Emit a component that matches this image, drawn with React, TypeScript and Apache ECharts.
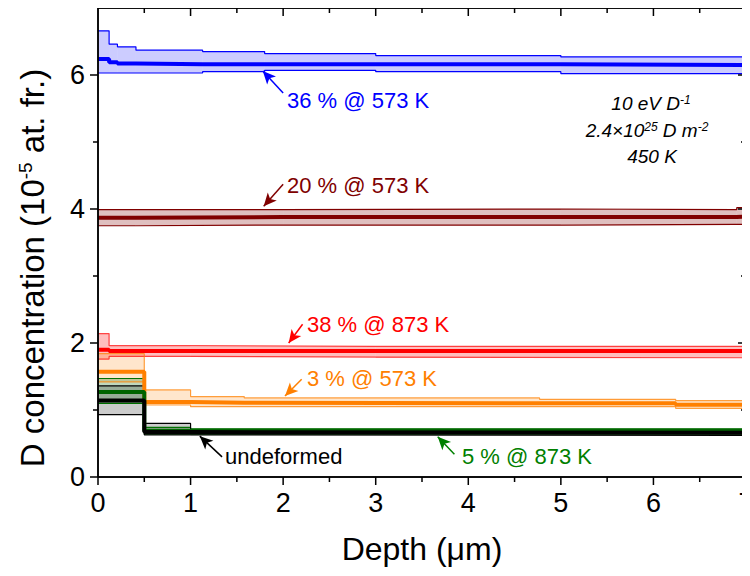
import React, { useEffect, useRef } from "react";
import * as echarts from "echarts";

// ---- data (depth in µm, concentration in 1e-5 at. fr.) ----
const blueEdges = [0, 0.12, 0.21, 0.41, 1.13, 1.8, 3.0, 5.0, 7];
const blueMean = [6.24, 6.19, 6.17, 6.16, 6.16, 6.16, 6.16, 6.15];
const blueUpper = [6.66, 6.46, 6.42, 6.37, 6.35, 6.32, 6.29, 6.27];
const blueLower = [6.03, 6.03, 6.03, 6.03, 6.05, 6.07, 6.05, 6.02];

const maroonEdges = [0, 0.4, 2, 5, 6.9, 7];
const maroonMean = [3.87, 3.88, 3.88, 3.88, 3.89];
const maroonUpper = [3.99, 3.99, 4.0, 3.99, 4.02];
const maroonLower = [3.75, 3.76, 3.76, 3.77, 3.77];

const redEdges = [0, 0.12, 1, 3, 7];
const redMean = [1.9, 1.88, 1.88, 1.88];
const redUpper = [2.14, 1.96, 1.95, 1.95];
const redLower = [1.76, 1.8, 1.79, 1.78];

const orangeEdges = [0, 0.5, 1.0, 1.58, 4.77, 6.24, 7];
const orangeMean = [1.57, 1.12, 1.11, 1.1, 1.1, 1.08];
const orangeUpper = [1.84, 1.3, 1.2, 1.18, 1.16, 1.14];
const orangeLower = [1.42, 1.075, 1.05, 1.05, 1.05, 1.025];

const greenEdges = [0, 0.5, 1, 7];
const greenMean = [1.27, 0.69, 0.69];
const greenUpper = [1.47, 0.74, 0.72];
const greenLower = [1.1, 0.64, 0.64];

const blackEdges = [0, 0.5, 1, 7];
const blackMean = [1.14, 0.67, 0.66];
const blackUpper = [1.36, 0.8, 0.7];
const blackLower = [0.93, 0.63, 0.62];

const xRange = [0, 7];
const yRange = [0, 7];
const xMajorTicks = [0, 1, 2, 3, 4, 5, 6, 7];
const xMinorTicks = [0.5, 1.5, 2.5, 3.5, 4.5, 5.5, 6.5];
const yMajorTicks = [0, 2, 4, 6];
const yMinorTicks = [1, 3, 5];

const BLACK = "#000000";
const W = 750;
const H = 576;
const GRID = { left: 98, right: 4, top: 8, bottom: 99 };

const profiles = [
  { name: "36 % @ 573 K", edges: blueEdges, mean: blueMean, upper: blueUpper, lower: blueLower, color: "#0000ff", fill: "rgba(0,0,255,0.2)", edge: "#0000ff" },
  { name: "20 % @ 573 K", edges: maroonEdges, mean: maroonMean, upper: maroonUpper, lower: maroonLower, color: "#800000", fill: "rgba(128,0,0,0.25)", edge: "#800000" },
  { name: "38 % @ 873 K", edges: redEdges, mean: redMean, upper: redUpper, lower: redLower, color: "#ff0000", fill: "rgba(255,0,0,0.25)", edge: "rgba(255,0,0,0.7)" },
  { name: "3 % @ 573 K", edges: orangeEdges, mean: orangeMean, upper: orangeUpper, lower: orangeLower, color: "#ff8000", fill: "rgba(255,128,0,0.2)", edge: "rgba(255,128,0,0.75)" },
  { name: "5 % @ 873 K", edges: greenEdges, mean: greenMean, upper: greenUpper, lower: greenLower, color: "#006400", fill: "rgba(0,100,0,0.25)", edge: "#007000" },
  { name: "undeformed", edges: blackEdges, mean: blackMean, upper: blackUpper, lower: blackLower, color: BLACK, fill: "rgba(0,0,0,0.2)", edge: BLACK },
];

// annotation arrows: [tailX, tailY, tipX, tipY] in data units
const arrowBlue = [2.0, 5.73, 1.78, 6.06];
const arrowMaroon = [2.0, 4.37, 1.79, 4.04];
const arrowRed = [2.21, 2.28, 2.06, 2.0];
const arrowOrange = [2.2, 1.46, 2.02, 1.21];
const arrowGreen = [3.85, 0.34, 3.67, 0.6];
const arrowBlack = [1.34, 0.3, 1.1, 0.61];

const annotations = [
  { text: "36 % @ 573 K", color: "#0000ff", arrow: arrowBlue, x: 287, y: 100 },
  { text: "20 % @ 573 K", color: "#800000", arrow: arrowMaroon, x: 287, y: 185 },
  { text: "38 % @ 873 K", color: "#ff0000", arrow: arrowRed, x: 307, y: 324 },
  { text: "3 % @ 573 K", color: "#ff8000", arrow: arrowOrange, x: 307, y: 378 },
  { text: "5 % @ 873 K", color: "#008000", arrow: arrowGreen, x: 462, y: 456 },
  { text: "undeformed", color: BLACK, arrow: arrowBlack, x: 225, y: 456 },
];

const FONT = "'Liberation Sans', Arial, Helvetica, sans-serif";

function stepData(edges: number[], vals: number[]) {
  return edges.map((x, i) => [x, vals[Math.min(i, vals.length - 1)]]);
}

function segData(edges: number[], lo: number[], hi: number[]) {
  const out: number[][] = [];
  for (let i = 0; i < edges.length - 1; i++) out.push([edges[i], edges[i + 1], lo[i], hi[i]]);
  return out;
}

function makeAxis(position: string, interval: number, range: number[], opts: any) {
  return {
    type: "value",
    position,
    min: range[0],
    max: range[1],
    interval,
    splitLine: { show: false },
    axisLine: { show: false },
    axisTick: { show: false },
    axisLabel: opts.labels
      ? { show: true, fontSize: 27, color: BLACK, fontFamily: FONT, margin: opts.margin, showMaxLabel: !opts.hideMax }
      : { show: false },
  };
}

// one SVG path for the frame and all tick marks, on the same linear map as the grid
function frameTicksPath() {
  const x0 = GRID.left, x1 = W - GRID.right, y0 = H - GRID.bottom, y1 = GRID.top;
  const px = (v: number) => x0 + ((v - xRange[0]) / (xRange[1] - xRange[0])) * (x1 - x0);
  const py = (v: number) => y0 - ((v - yRange[0]) / (yRange[1] - yRange[0])) * (y0 - y1);
  const f = (n: number) => n.toFixed(2);
  let d = `M${f(x0)} ${f(y1)}L${f(x1)} ${f(y1)}L${f(x1)} ${f(y0)}L${f(x0)} ${f(y0)}Z`;
  const vt = (x: number, ya: number, yb: number) => { d += `M${f(x)} ${f(ya)}L${f(x)} ${f(yb)}`; };
  const ht = (xa: number, xb: number, y: number) => { d += `M${f(xa)} ${f(y)}L${f(xb)} ${f(y)}`; };
  xMajorTicks.forEach((v) => { vt(px(v), y0, y0 + 8); vt(px(v), y1, y1 + 8); });
  xMinorTicks.forEach((v) => { vt(px(v), y0, y0 + 5); vt(px(v), y1, y1 + 5); });
  yMajorTicks.forEach((v) => { ht(x0 - 8, x0, py(v)); ht(x1 - 8, x1, py(v)); });
  yMinorTicks.forEach((v) => { ht(x0 - 5, x0, py(v)); ht(x1 - 5, x1, py(v)); });
  return d;
}

export default function App() {
  const ref = useRef<HTMLDivElement>(null);
  useEffect(() => {
    if (!ref.current) return;
    echarts.graphic.registerShape("frameticks", echarts.graphic.extendPath(frameTicksPath(), {}));
    const chart = echarts.init(ref.current, null, { renderer: "svg" });
    const series: any[] = [];
    profiles.forEach((p, idx) => {
      series.push({
        type: "custom",
        name: p.name + " band",
        data: segData(p.edges, p.lower, p.upper),
        encode: { x: [0, 1], y: [2, 3] },
        silent: true,
        z: 1,
        renderItem: (params: any, api: any) => {
          const a = api.coord([api.value(0), api.value(3)]);
          const b = api.coord([api.value(1), api.value(2)]);
          return {
            type: "rect",
            shape: { x: a[0], y: a[1], width: b[0] - a[0], height: b[1] - a[1] },
            style: { fill: p.fill, stroke: null },
          };
        },
      });
      [p.upper, p.lower].forEach((vals) =>
        series.push({
          type: "line",
          data: stepData(p.edges, vals),
          step: "end",
          showSymbol: false,
          lineStyle: { color: p.edge, width: 1.2 },
          silent: true,
          z: 2,
        })
      );
      const mean: any = {
        type: "line",
        data: stepData(p.edges, p.mean),
        step: "end",
        showSymbol: false,
        lineStyle: { color: p.color, width: 4 },
        silent: true,
        z: 3,
      };
      if (idx === profiles.length - 1) {
        mean.markLine = {
          silent: true,
          symbol: ["none", "arrow"],
          symbolSize: [9, 13],
          label: { show: false },
          animation: false,
          data: annotations.map((a) => [
            { coord: [a.arrow[0], a.arrow[1]], lineStyle: { color: a.color, width: 1.5, type: "solid" } },
            { coord: [a.arrow[2], a.arrow[3]] },
          ]),
        };
      }
      series.push(mean);
    });
    // backup frame through the axes' extent
    series.push({
      type: "line",
      name: "frame",
      data: [
        [xRange[0], yRange[0]],
        [xRange[1], yRange[0]],
        [xRange[1], yRange[1]],
        [xRange[0], yRange[1]],
        [xRange[0], yRange[0]],
      ],
      showSymbol: false,
      clip: false,
      silent: true,
      lineStyle: { color: BLACK, width: 1.5 },
      z: 5,
    });

    const option: any = {
      animation: false,
      grid: { ...GRID, containLabel: false, outerBoundsMode: "none" },
      xAxis: [makeAxis("bottom", 1, xRange, { labels: true, margin: 12 })],
      yAxis: [makeAxis("left", 2, yRange, { labels: true, margin: 13, hideMax: true })],
      series,
      graphic: [
        {
          type: "frameticks",
          x: 0,
          y: 0,
          z: 10,
          style: { stroke: BLACK, lineWidth: 1.5, fill: "none" },
        },
        ...annotations.map((a) => ({
          type: "text",
          x: a.x,
          y: a.y,
          z: 10,
          style: { text: a.text, fill: a.color, font: `22px ${FONT}`, textAlign: "left", textVerticalAlign: "middle" },
        })),
        {
          type: "text", x: 422, y: 549, z: 10,
          style: { text: "Depth (\u03bcm)", fill: BLACK, font: `32px ${FONT}`, textAlign: "center", textVerticalAlign: "middle" },
        },
        {
          type: "text", x: 32, y: 268, rotation: Math.PI / 2, z: 10,
          style: {
            text: "{m|D concentration (10}{s|-5}{m| at. fr.)}",
            textAlign: "center", textVerticalAlign: "middle",
            rich: {
              m: { fontSize: 33, fontFamily: FONT, fill: BLACK, color: BLACK },
              s: { fontSize: 19, fontFamily: FONT, fill: BLACK, color: BLACK, verticalAlign: "top" },
            },
          },
        },
        {
          type: "text", x: 651, y: 103, z: 10,
          style: {
            text: "{m|10 eV D}{s|-1}", textAlign: "center", textVerticalAlign: "middle",
            rich: {
              m: { fontSize: 19, fontStyle: "italic", fontFamily: FONT, fill: BLACK, color: BLACK },
              s: { fontSize: 12, fontStyle: "italic", fontFamily: FONT, fill: BLACK, color: BLACK, verticalAlign: "top" },
            },
          },
        },
        {
          type: "text", x: 647, y: 130, z: 10,
          style: {
            text: "{m|2.4\u00d710}{s|25}{m| D m}{s|-2}", textAlign: "center", textVerticalAlign: "middle",
            rich: {
              m: { fontSize: 19, fontStyle: "italic", fontFamily: FONT, fill: BLACK, color: BLACK },
              s: { fontSize: 12, fontStyle: "italic", fontFamily: FONT, fill: BLACK, color: BLACK, verticalAlign: "top" },
            },
          },
        },
        {
          type: "text", x: 652, y: 156, z: 10,
          style: { text: "450 K", fill: BLACK, font: `italic 19px ${FONT}`, textAlign: "center", textVerticalAlign: "middle" },
        },
      ],
    };
    chart.setOption(option);
    return () => chart.dispose();
  }, []);
  return <div ref={ref} style={{ width: W, height: H, margin: -8 }} />;
}
